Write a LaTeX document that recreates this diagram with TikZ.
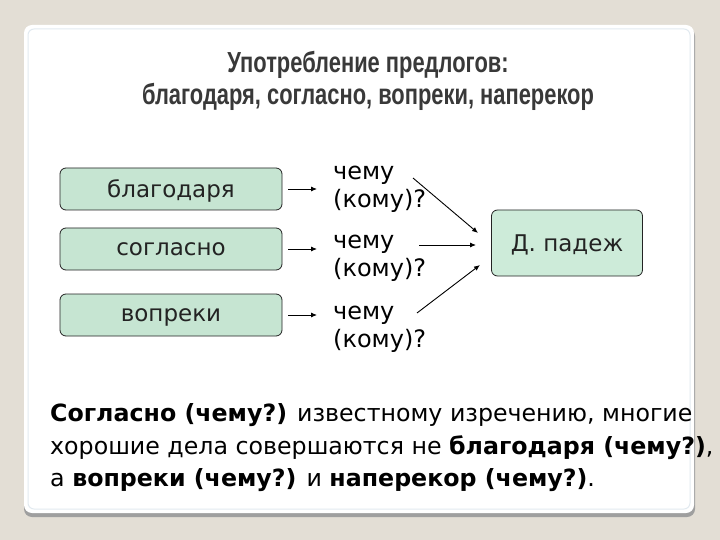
\documentclass[tikz,border=0pt]{standalone}
\usepackage{fontspec}
\setmainfont{DejaVu Sans}
\newfontfamily\titlefont[FakeStretch=0.755]{Liberation Sans}
\usetikzlibrary{arrows.meta}
\usetikzlibrary{positioning}
\definecolor{pagebg}{RGB}{227,222,213}
\definecolor{boxgreen}{RGB}{198,229,210}
\definecolor{casegreen}{RGB}{205,235,217}
\definecolor{inkgray}{RGB}{35,35,35}
\definecolor{cardline}{RGB}{226,234,240}
\tikzset{wordbox/.style = {draw=inkgray, fill=boxgreen, rounded corners=6pt, line width=0.8pt,
                           minimum width=222pt, minimum height=42pt, inner sep=0, text depth=0pt,
                           font=\fontsize{23}{27}\selectfont, text=inkgray}}
\tikzset{casebox/.style = {wordbox, fill=casegreen, minimum width=151pt, minimum height=66pt}}
\tikzset{question/.style = {anchor=west, align=left, inner sep=0,
                            font=\fontsize{24}{28}\selectfont}}
\tikzset{pointer/.style = {-{Latex[length=6pt,width=5pt]}, line width=0.9pt}}
\tikzset{textline/.style = {anchor=base west, inner sep=0, font=\fontsize{23.7}{28}\selectfont}}
\begin{document}
\begin{tikzpicture}[x=1pt, y=-1pt]
  \fill [pagebg] (0,0) rectangle (720,540);
  \useasboundingbox (0,0) rectangle (720,540);

  % card
  \fill [gray!75, rounded corners=8pt] (24,28) rectangle (695,517);
  \fill [white, rounded corners=8pt] (24,25) rectangle (694,513);
  \draw [cardline, line width=1pt, rounded corners=6pt] (28,29) rectangle (690,509);

  \node [font=\titlefont\bfseries\fontsize{29}{32}\selectfont, text=inkgray!90, align=center]
        (title) at (368,81) {Употребление предлогов:\\благодаря, согласно, вопреки, наперекор};

  \node [wordbox] (blag) at (171,189) {благодаря};
  \node [wordbox] (sogl) at (171,249) {согласно};
  \node [wordbox] (vopr) at (171,315) {вопреки};

  \node [question] (q1) at (333,189) {чему\\(кому)?};
  \node [question] (q2) at (333,258) {чему\\(кому)?};
  \node [question] (q3) at (333,329) {чему\\(кому)?};

  \node [casebox] (case) at (567,243) {Д. падеж};

  \draw [pointer, shorten <=6pt, shorten >=16pt] (blag.east) -- (blag.east -| q1.west);
  \draw [pointer, shorten <=6pt, shorten >=16pt] (sogl.east) -- (sogl.east -| q2.west);
  \draw [pointer, shorten <=6pt, shorten >=16pt] (vopr.east) -- (vopr.east -| q3.west);

  \coordinate (from1) at (413,178);
  \coordinate (from2) at (419,245);
  \coordinate (from3) at (417,313);
  \coordinate (to1) at (478,233);
  \coordinate (to2) at (476,245);
  \coordinate (to3) at (480,265);
  \draw [pointer] (from1) -- (to1);
  \draw [pointer] (from2) -- (to2);
  \draw [pointer] (from3) -- (to3);

  \node [textline] (line1) at (50,421) {\textbf{Согласно (чему?)} известному изречению, многие};
  \node [textline] (line2) at (50,454) {хорошие дела совершаются не \textbf{благодаря (чему?)},};
  \node [textline] (line3) at (50,486) {а \textbf{вопреки (чему?)} и \textbf{наперекор (чему?)}.};
\end{tikzpicture}
\end{document}
